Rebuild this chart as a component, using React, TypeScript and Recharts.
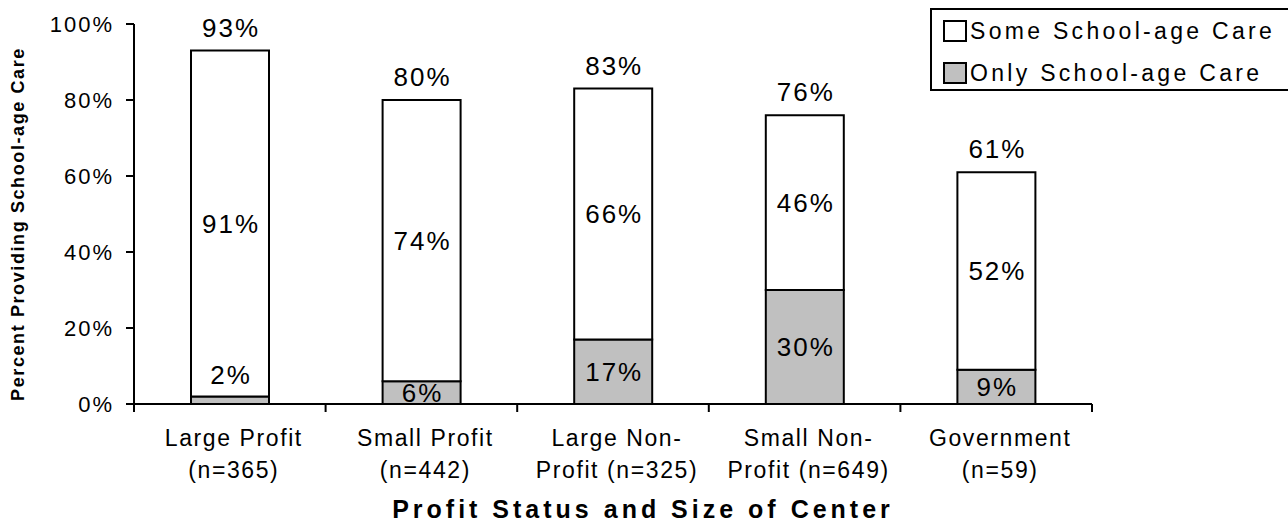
import { BarChart, Bar, XAxis, YAxis, LabelList, Label, Legend } from "recharts"

const categories = [
  "Large Profit\n(n=365)",
  "Small Profit\n(n=442)",
  "Large Non-\nProfit (n=325)",
  "Small Non-\nProfit (n=649)",
  "Government\n(n=59)",
]
const onlySchoolAge = [2, 6, 17, 30, 9]
const someSchoolAge = [91, 74, 66, 46, 52]
const totals = [93, 80, 83, 76, 61]
const yTicks = [0, 20, 40, 60, 80, 100]

const SOME_NAME = "Some School-age Care"
const ONLY_NAME = "Only School-age Care"

const FONT = "'Liberation Sans', Arial, sans-serif"
const VAL_SIZE = 26
const VAL_SPACING = 2

const data = categories.map((name, i) => ({
  name,
  only: onlySchoolAge[i],
  some: someSchoolAge[i],
  total: totals[i],
}))

function CategoryTick(props: any) {
  const { x, y, payload, index } = props
  const half = payload.offset || 0
  const lines = String(payload.value).split("\n")
  return (
    <g>
      {index === 0 && <line x1={x - half} y1={y} x2={x - half} y2={y + 8} stroke="#000" strokeWidth={2} />}
      <line x1={x + half} y1={y} x2={x + half} y2={y + 8} stroke="#000" strokeWidth={2} />
      {lines.map((l, i) => (
        <text
          key={i}
          x={x + 4}
          y={y + 42 + i * 32}
          textAnchor="middle"
          fontSize={23}
          letterSpacing={1.6}
          fontFamily={FONT}
          fill="#000"
        >
          {l}
        </text>
      ))}
    </g>
  )
}

function SegmentLabel(props: any) {
  const { x, y, width, height, value } = props
  const cx = x + width / 2 + VAL_SPACING / 2
  // thin segments get their label above the bar
  const cy = height < 14 ? y - 21 : y + height / 2
  return (
    <text x={cx} y={cy} textAnchor="middle" dominantBaseline="central" fontSize={VAL_SIZE} letterSpacing={VAL_SPACING} fontFamily={FONT} fill="#000">
      {value}%
    </text>
  )
}

function TotalLabel(props: any) {
  const { x, y, width, index } = props
  return (
    <text x={x + width / 2 + VAL_SPACING / 2} y={y - 14} textAnchor="middle" fontSize={VAL_SIZE} letterSpacing={VAL_SPACING} fontFamily={FONT} fill="#000">
      {totals[index]}%
    </text>
  )
}

function LegendBox() {
  const items = [
    { name: SOME_NAME, fill: "#ffffff" },
    { name: ONLY_NAME, fill: "#c0c0c0" },
  ]
  return (
    <div
      style={{
        border: "2px solid #000",
        width: 362,
        height: 83,
        boxSizing: "border-box",
        padding: "0 0 0 11px",
        fontFamily: FONT,
        background: "#fff",
      }}
    >
      {items.map(it => (
        <div key={it.name} style={{ display: "flex", alignItems: "center", height: 42 }}>
          <span
            style={{
              width: 24,
              height: 22,
              border: "2px solid #000",
              background: it.fill,
              boxSizing: "border-box",
              marginRight: 3,
            }}
          />
          <span style={{ fontSize: 23, letterSpacing: 3.3, color: "#000" }}>{it.name}</span>
        </div>
      ))}
    </div>
  )
}

export default function App() {
  return (
    <div style={{ position: "absolute", left: 0, top: 0, width: 1288, height: 527, overflow: "hidden", background: "#fff" }}>
      <BarChart width={1288} height={527} data={data} margin={{ top: 24, right: 196, bottom: 0, left: 0 }}>
        <XAxis
          dataKey="name"
          height={123}
          tickSize={0}
          tickMargin={0}
          tickLine={false}
          axisLine={{ stroke: "#000", strokeWidth: 2 }}
          tick={<CategoryTick />}
          interval={0}
        >
          <Label
            content={() => (
              <text x={643} y={518} textAnchor="middle" fontSize={25} fontWeight="bold" letterSpacing={4} fontFamily={FONT} fill="#000">
                Profit Status and Size of Center
              </text>
            )}
          />
        </XAxis>
        <YAxis
          width={134}
          domain={[0, 100]}
          ticks={yTicks}
          tickFormatter={(v: number) => `${v}%`}
          tickSize={8}
          tickMargin={12}
          axisLine={{ stroke: "#000", strokeWidth: 2 }}
          tickLine={{ stroke: "#000", strokeWidth: 2 }}
          tick={{ fontSize: 22, fill: "#000", fontFamily: FONT, letterSpacing: 2 }}
        >
          <Label
            content={() => (
              <text
                x={18}
                y={224}
                transform="rotate(-90 18 224)"
                textAnchor="middle"
                dominantBaseline="central"
                fontSize={18}
                fontWeight="bold"
                letterSpacing={1.6}
                fontFamily={FONT}
                fill="#000"
              >
                Percent Providing School-age Care
              </text>
            )}
          />
        </YAxis>
        <Legend
          layout="vertical"
          align="center"
          verticalAlign="middle"
          wrapperStyle={{ position: "absolute", left: 930, top: 8, width: 362 }}
          content={() => <LegendBox />}
        />
        <Bar dataKey="only" name={ONLY_NAME} stackId="a" fill="#c0c0c0" stroke="#000" strokeWidth={2} barSize={78} isAnimationActive={false}>
          <LabelList dataKey="only" content={<SegmentLabel />} />
        </Bar>
        <Bar dataKey="some" name={SOME_NAME} stackId="a" fill="#ffffff" stroke="#000" strokeWidth={2} barSize={78} isAnimationActive={false}>
          <LabelList dataKey="some" content={<SegmentLabel />} />
          <LabelList dataKey="total" content={<TotalLabel />} />
        </Bar>
      </BarChart>
    </div>
  )
}
